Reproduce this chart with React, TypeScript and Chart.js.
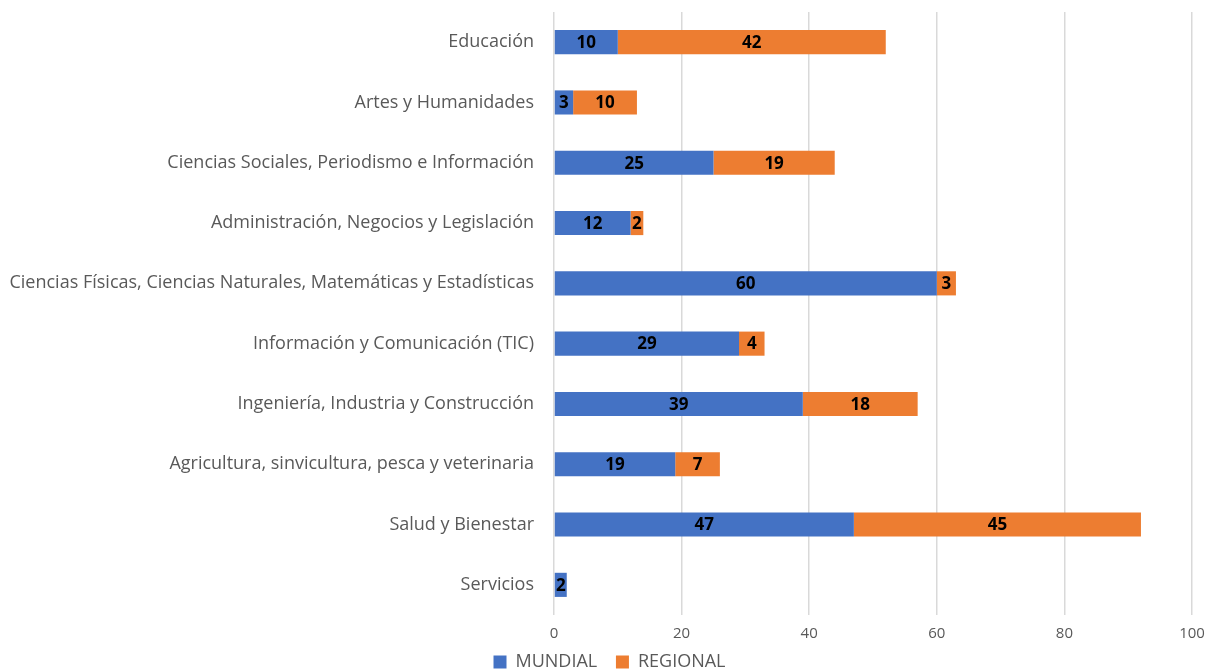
import React, { useEffect, useRef } from "react";
import { Chart, registerables } from "chart.js";

Chart.register(...registerables);

const categories = [
  "Educación",
  "Artes y Humanidades",
  "Ciencias Sociales, Periodismo e Información",
  "Administración, Negocios y Legislación",
  "Ciencias Físicas, Ciencias Naturales, Matemáticas y Estadísticas",
  "Información y Comunicación (TIC)",
  "Ingeniería, Industria y Construcción",
  "Agricultura, sinvicultura, pesca y veterinaria",
  "Salud y Bienestar",
  "Servicios",
];
const mundial = [10, 3, 25, 12, 60, 29, 39, 19, 47, 2];
const regional = [42, 10, 19, 2, 3, 4, 18, 7, 45, null];
const xTicks = [0, 20, 40, 60, 80, 100];

const FONT = "'Open Sans'";

const barLabels = {
  id: "barLabels",
  afterDatasetsDraw(chart: any) {
    const ctx = chart.ctx;
    ctx.save();
    ctx.font = `bold 17px ${FONT}`;
    ctx.fillStyle = "#000000";
    ctx.textAlign = "center";
    ctx.textBaseline = "middle";
    chart.data.datasets.forEach((ds: any, di: number) => {
      const meta = chart.getDatasetMeta(di);
      meta.data.forEach((el: any, i: number) => {
        const v = ds.data[i];
        if (v == null || v === 0) return;
        const p = el.getProps(["x", "y", "base"], true);
        ctx.fillText(String(v), (p.x + p.base) / 2, p.y + 1);
      });
    });
    ctx.restore();
  },
};

// let the long category labels extend into the left padding without clipping
const unclipY = {
  id: "unclipY",
  afterLayout(chart: any) {
    chart.scales.y.left = 0;
  },
};

export default function App() {
  const ref = useRef<HTMLCanvasElement>(null);
  useEffect(() => {
    document.body.style.margin = "0";
    const chart = new Chart(ref.current!, {
      type: "bar",
      data: {
        labels: categories,
        datasets: [
          { label: "MUNDIAL", data: mundial, backgroundColor: "#4472C4" },
          { label: "REGIONAL", data: regional as any, backgroundColor: "#ED7D31" },
        ],
      },
      options: {
        indexAxis: "y",
        animation: false,
        responsive: true,
        maintainAspectRatio: false,
        layout: { padding: { top: 12, right: 15, bottom: -12, left: 27 } },
        datasets: { bar: { barPercentage: 0.8, categoryPercentage: 0.5 } },
        scales: {
          x: {
            stacked: true,
            min: 0,
            max: 100,
            afterBuildTicks: (s: any) => {
              s.ticks = xTicks.map((v) => ({ value: v }));
            },
            afterFit: (s: any) => {
              s.paddingLeft = 0;
              s.paddingRight = 0;
            },
            grid: { color: "#d9d9d9", lineWidth: 1.5, drawTicks: false },
            border: { display: false },
            ticks: { color: "#595959", font: { family: FONT, size: 15 }, padding: 10 },
          },
          y: {
            stacked: true,
            afterFit: (s: any) => {
              s.width = 527;
              s.paddingTop = 0;
              s.paddingBottom = 0;
            },
            grid: { display: false, drawTicks: false },
            border: { display: false },
            ticks: { color: "#595959", font: { family: FONT, size: 18 }, padding: 20, autoSkip: false },
          },
        },
        plugins: {
          legend: {
            position: "bottom",
            labels: {
              color: "#595959",
              font: { family: FONT, size: 18 },
              boxWidth: 13,
              boxHeight: 13,
              padding: 0,
              generateLabels: (chart: any) => {
                const items = Chart.defaults.plugins.legend.labels.generateLabels(chart);
                items.forEach((it: any, i: number) => {
                  if (i < items.length - 1) it.text = it.text + "    ";
                });
                return items;
              },
            },
          },
          tooltip: { enabled: false },
        },
      },
      plugins: [barLabels, unclipY],
    });
    return () => chart.destroy();
  }, []);
  return (
    <div style={{ position: "absolute", left: 0, top: 0, width: 1207, height: 669 }}>
      <canvas ref={ref} />
    </div>
  );
}
